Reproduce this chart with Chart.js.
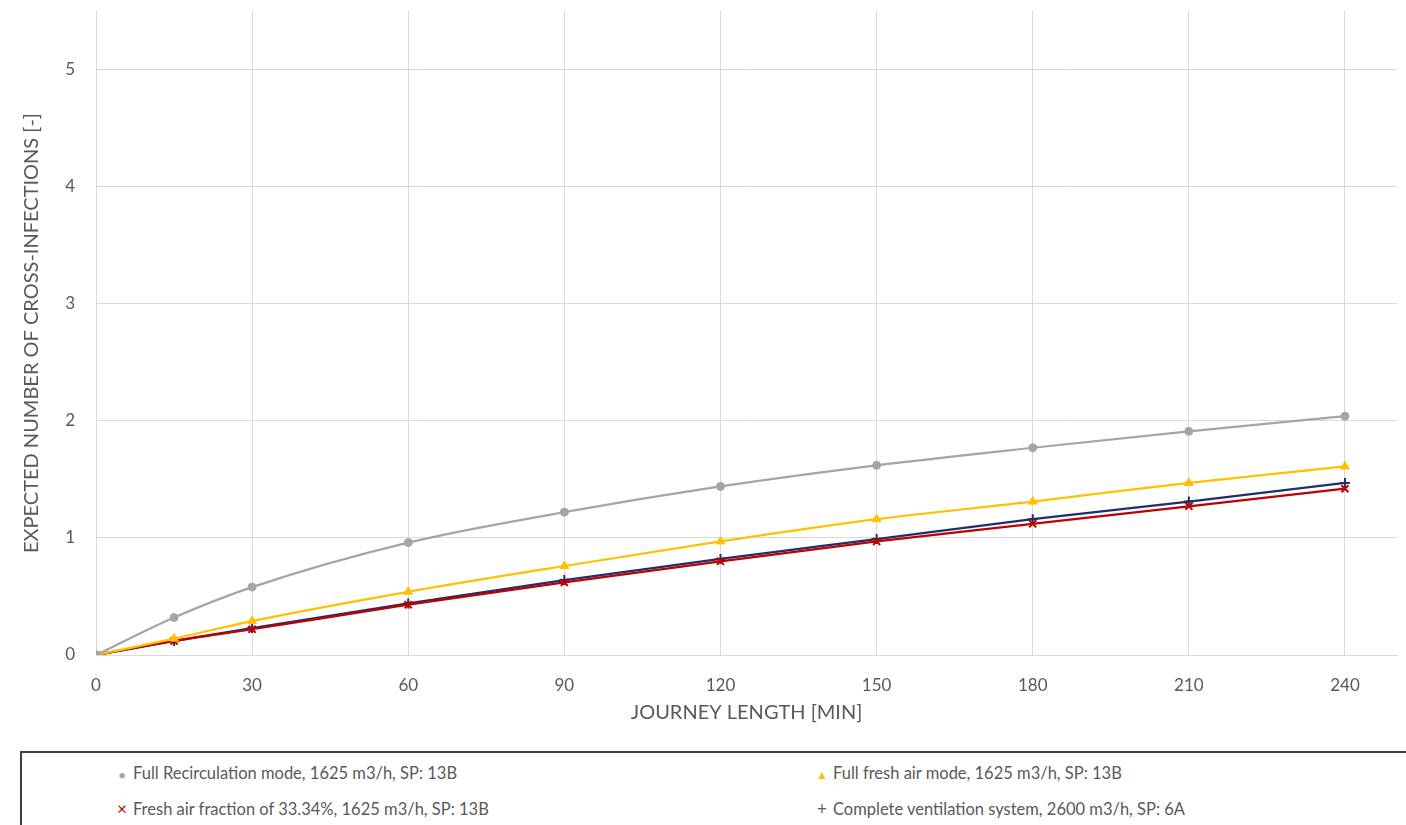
<!DOCTYPE html>
<html>
<head>
<meta charset="utf-8">
<script src="https://cdn.jsdelivr.net/npm/chart.js@4"></script>
<style>
  html, body { margin: 0; padding: 0; background: #fff; }
  body { width: 1406px; height: 825px; position: relative; overflow: hidden; font-family: Lato, "Open Sans", sans-serif; }
  #wrap { position: absolute; left: 0; top: 0; width: 1406px; height: 740px; }
  #legend {
    position: absolute; left: 20px; top: 751px; width: 1400px; height: 90px;
    border: 2px solid #404040; box-sizing: border-box; color: #595959; font-size: 16.5px;
  }
  #legend .item { position: absolute; white-space: nowrap; line-height: 20px; }
  #legend .mk { display: inline-block; width: 14px; text-align: center; margin-right: 4px; }
</style>
</head>
<body>
<div id="wrap"><canvas id="chart"></canvas></div>
<div id="legend"></div>
<script>
// journey length (min)
const minutes = [0, 15, 30, 60, 90, 120, 150, 180, 210, 240];

const seriesNames = [
  "Full Recirculation mode, 1625 m3/h, SP: 13B",
  "Full fresh air mode, 1625 m3/h, SP: 13B",
  "Fresh air fraction of 33.34%, 1625 m3/h, SP: 13B",
  "Complete ventilation system, 2600 m3/h, SP: 6A"
];

const recirculation = [0, 0.32, 0.58, 0.96, 1.22, 1.44, 1.62, 1.77, 1.91, 2.04];
const freshAir      = [0, 0.14, 0.29, 0.54, 0.76, 0.97, 1.16, 1.31, 1.47, 1.61];
const fraction3334  = [0, 0.12, 0.22, 0.43, 0.62, 0.80, 0.97, 1.12, 1.27, 1.42];
const completeVent  = [0, 0.12, 0.23, 0.44, 0.64, 0.82, 0.99, 1.16, 1.31, 1.47];

const xTicks = [0, 30, 60, 90, 120, 150, 180, 210, 240];
const yTicks = [0, 1, 2, 3, 4, 5];

const colors = ["#a5a5a5", "#ffc000", "#c00000", "#1f2f6b"];
const markers = ["circle", "triangle", "crossRot", "cross"];
const legendGlyph = ["●", "▲", "×", "+"];

function pts(ys) {
  return minutes.map((m, i) => ({ x: m, y: ys[i] }));
}

const allSeries = [recirculation, freshAir, fraction3334, completeVent];

const datasets = allSeries.map((ys, i) => ({
  label: seriesNames[i],
  data: pts(ys),
  showLine: true,
  borderColor: colors[i],
  backgroundColor: colors[i],
  pointBackgroundColor: colors[i],
  pointBorderColor: colors[i],
  pointStyle: markers[i],
  pointRadius: i === 0 ? 4 : 5,
  pointBorderWidth: i >= 2 ? 2 : 1,
  borderWidth: 2.25,
  cubicInterpolationMode: "monotone",
  fill: false
}));

const grey = "#595959";

new Chart(document.getElementById("chart"), {
  type: "scatter",
  data: { datasets },
  options: {
    responsive: true,
    maintainAspectRatio: false,
    animation: false,
    layout: { autoPadding: false, padding: { top: 11, right: 9, left: 0, bottom: 0 } },
    plugins: { legend: { display: false }, tooltip: { enabled: false } },
    scales: {
      x: {
        type: "linear",
        min: 0,
        max: 250,
        afterBuildTicks: s => { s.ticks = xTicks.map(v => ({ value: v })); },
        afterFit: s => { s.height = 85; s.paddingLeft = 0; s.paddingRight = 0; },
        grid: { color: "#d9d9d9", lineWidth: 1, drawTicks: false },
        border: { color: "#d9d9d9" },
        ticks: { color: grey, padding: 20, font: { family: "Lato", size: 17 }, maxRotation: 0 },
        title: {
          display: true, text: "JOURNEY LENGTH [MIN]", color: grey,
          font: { family: "Lato", size: 20 }, padding: { top: 4, bottom: 15 }
        }
      },
      y: {
        type: "linear",
        min: 0,
        max: 5.5,
        afterBuildTicks: s => { s.ticks = yTicks.map(v => ({ value: v })); },
        afterFit: s => { s.width = 96; s.paddingTop = 0; s.paddingBottom = 0; },
        grid: { color: "#d9d9d9", lineWidth: 1, drawTicks: false },
        border: { display: false },
        ticks: { color: grey, padding: 21, font: { family: "Lato", size: 17 } },
        title: {
          display: true, text: "EXPECTED NUMBER OF CROSS-INFECTIONS [-]", color: grey,
          font: { family: "Lato", size: 20 }, padding: { top: 20, bottom: 0 }
        }
      }
    }
  }
});

// legend box below the chart
const legendPos = [[93, 10], [793, 10], [93, 46], [793, 46]];
const legendEl = document.getElementById("legend");
seriesNames.forEach((name, i) => {
  const div = document.createElement("div");
  div.className = "item";
  div.style.left = legendPos[i][0] + "px";
  div.style.top = legendPos[i][1] + "px";
  const mk = document.createElement("span");
  mk.className = "mk";
  mk.style.color = i === 3 ? grey : colors[i];
  mk.style.fontSize = i === 0 ? "11px" : (i === 1 ? "12px" : "17px");
  mk.textContent = legendGlyph[i];
  div.appendChild(mk);
  div.appendChild(document.createTextNode(name));
  legendEl.appendChild(div);
});
</script>
</body>
</html>
